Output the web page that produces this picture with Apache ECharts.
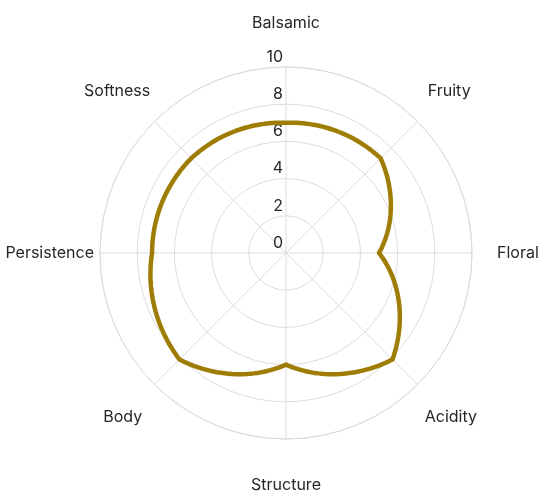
<!DOCTYPE html>
<html>
<head>
<meta charset="utf-8">
<script src="https://cdn.jsdelivr.net/npm/echarts@6/dist/echarts.min.js"></script>
<style>
html, body { margin: 0; padding: 0; background: #fff; }
#main { width: 540px; height: 492px; }
</style>
</head>
<body>
<div id="main"></div>
<script>
// data
var categories = ['Balsamic', 'Fruity', 'Floral', 'Acidity', 'Structure', 'Body', 'Persistence', 'Softness'];
var scores = [7, 7.2, 5, 8.1, 6, 8.1, 7.2, 7.2];
var tickValues = [0, 2, 4, 6, 8, 10];

var step = 360 / categories.length;
// [radius, angle] pairs
var lineData = scores.map(function (v, i) { return [v, i * step]; });

// extra padding of each name label [top, right, bottom, left]
var namePad = [[0, 0, 30, 0], [0, 0, 18, 6], [0, 0, 0, 19], [20, 0, 0, 3],
               [32, 0, 0, 0], [20, 8, 0, 0], [0, 0, 0, 0], [0, 0, 18, 0]];
var rich = {};
namePad.forEach(function (p, i) {
    rich['n' + i] = { padding: p, fontSize: 16, color: '#262626', fontFamily: 'Inter' };
});

var gridColor = '#dcdcdc';
var lineColor = '#9f7c04';

// line drawn in polar space: radius changes linearly with angle between two indicators
function renderLoop(params, api) {
    if (params.dataIndexInside !== 0) return null;
    var n = scores.length;
    var pts = [];
    var sub = 30;
    for (var j = 0; j < n; j++) {
        var r0 = api.value(0, j), a0 = api.value(1, j);
        var r1 = api.value(0, (j + 1) % n), a1 = a0 + step;
        for (var k = 0; k < sub; k++) {
            var t = k / sub;
            pts.push(api.coord([r0 + (r1 - r0) * t, a0 + (a1 - a0) * t]));
        }
    }
    return {
        type: 'polygon',
        shape: { points: pts },
        style: { fill: null, stroke: lineColor, lineWidth: 4.5, lineJoin: 'round' }
    };
}

var myChart = echarts.init(document.getElementById('main'));

var option = {
    animation: false,
    polar: {
        center: [286, 253],
        radius: 186
    },
    angleAxis: {
        type: 'value',
        min: 0,
        max: 360,
        interval: step,
        startAngle: 90,
        clockwise: true,
        axisLine: { show: true, lineStyle: { color: gridColor } },
        axisTick: { show: false },
        splitLine: { show: true, lineStyle: { color: gridColor } },
        axisLabel: {
            margin: 6,
            formatter: function (v) {
                var i = Math.round(v / step) % categories.length;
                return '{n' + i + '|' + categories[i] + '}';
            },
            rich: rich
        }
    },
    radiusAxis: {
        type: 'value',
        min: tickValues[0],
        max: tickValues[tickValues.length - 1],
        interval: tickValues[1] - tickValues[0],
        axisLine: { show: false },
        axisTick: { show: false },
        splitLine: { show: true, lineStyle: { color: gridColor } },
        axisLabel: {
            margin: 0,
            align: 'right',
            verticalAlign: 'bottom',
            padding: [0, 3, 2, 0],
            color: '#262626',
            fontSize: 16,
            fontFamily: 'Inter'
        }
    },
    series: [{
        type: 'custom',
        coordinateSystem: 'polar',
        data: lineData,
        renderItem: renderLoop,
        z: 3
    }]
};

myChart.setOption(option);
</script>
</body>
</html>
